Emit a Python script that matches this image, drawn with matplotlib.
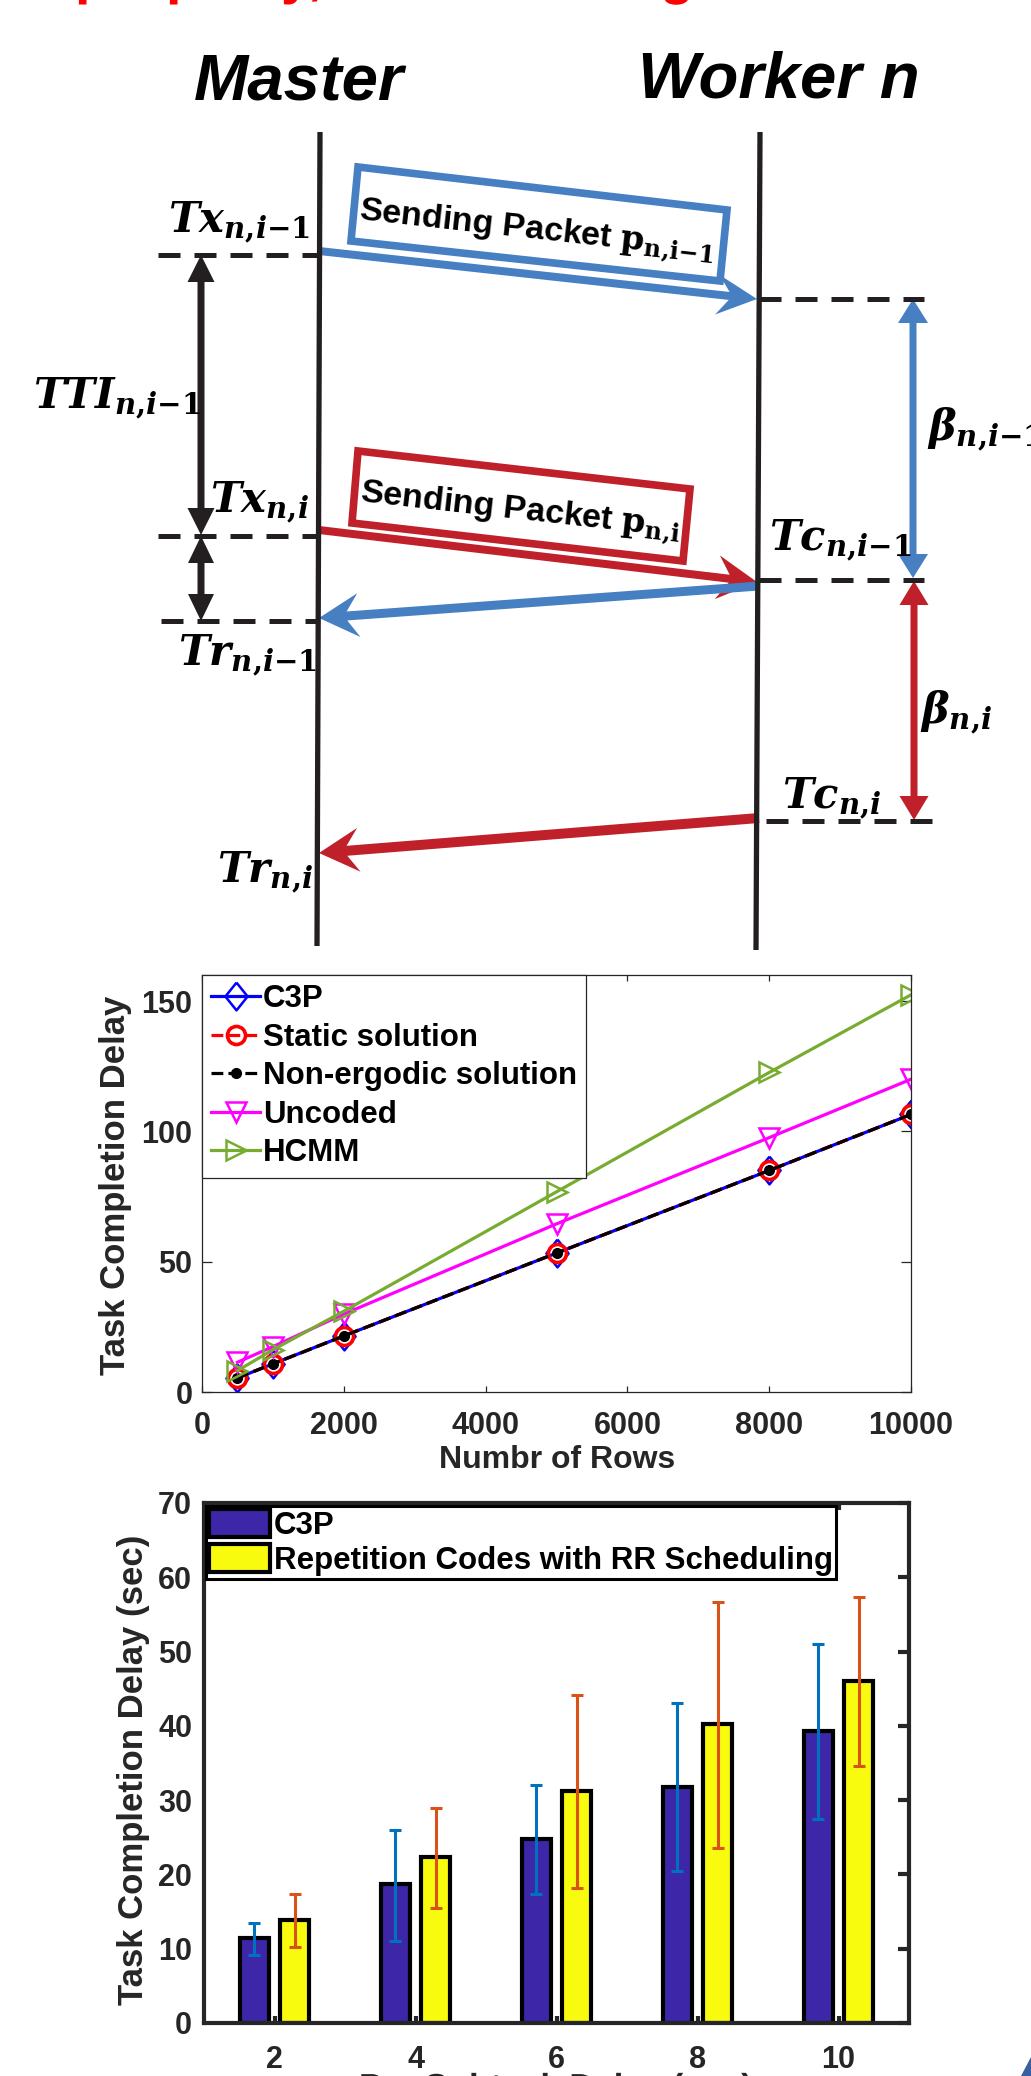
import numpy as np
import matplotlib
matplotlib.use('Agg')
import matplotlib.pyplot as plt
import matplotlib.patheffects as pe
from matplotlib.patches import Polygon

# ---- data: middle chart ----
rows = [500, 1000, 2000, 5000, 8000, 10000]
c3p_delay = [5.4, 10.8, 21.5, 53.3, 85.0, 106.5]
static_delay = [5.4, 10.8, 21.5, 53.3, 85.0, 106.5]
nonergodic_delay = [5.4, 10.8, 21.5, 53.3, 85.0, 106.5]
uncoded_delay = [11.4, 17.4, 29.9, 64.5, 97.6, 120.0]
hcmm_delay = [8.2, 16.2, 31.0, 76.8, 122.6, 152.4]
line_labels = ['C3P', 'Static solution', 'Non-ergodic solution', 'Uncoded', 'HCMM']

# ---- data: bottom chart ----
workers = [2, 4, 6, 8, 10]
c3p_mean = [11.4, 18.7, 24.8, 31.8, 39.3]
c3p_lo = [9.2, 11.1, 17.3, 20.4, 27.5]
c3p_hi = [13.5, 26.0, 32.1, 43.1, 51.0]
rep_mean = [13.8, 22.3, 31.2, 40.2, 46.0]
rep_lo = [10.2, 15.5, 18.2, 23.6, 34.6]
rep_hi = [17.3, 29.0, 44.1, 56.7, 57.4]
bar_labels = ['C3P', 'Repetition Codes with RR Scheduling']

plt.rcParams.update({
    'font.family': 'Liberation Sans',
    'font.weight': 'bold',
    'mathtext.fontset': 'custom',
    'mathtext.it': 'DejaVu Serif:italic:bold',
    'mathtext.rm': 'DejaVu Serif:bold',
    'mathtext.bf': 'DejaVu Serif:bold',
})

W, H = 1031, 2076
K = '#231F20'
BLUE = '#4680C2'
RED = '#C0202A'
GRAY = '#262626'

fig = plt.figure(figsize=(W / 100, H / 100), dpi=100)

# background axes in pixel coordinates for the diagram
bg = fig.add_axes([0, 0, 1, 1])
bg.set_xlim(0, W)
bg.set_ylim(H, 0)
bg.axis('off')


def px_axes(x0, y0, x1, y1):
    return fig.add_axes([x0 / W, 1 - y1 / H, (x1 - x0) / W, (y1 - y0) / H])


def arrow(x0, y0, x1, y1, color, w, hl, hw, both=False, notch=0.0):
    p0 = np.array([x0, y0], float)
    p1 = np.array([x1, y1], float)
    u = (p1 - p0) / np.hypot(*(p1 - p0))
    n = np.array([-u[1], u[0]])
    b1 = p1 - u * hl
    i1 = p1 - u * hl * (1 - notch)
    if both:
        b0 = p0 + u * hl
        i0 = p0 + u * hl * (1 - notch)
        start = i0
    else:
        start = p0
    pts = [start + n * w / 2, i1 + n * w / 2, b1 + n * hw / 2, p1,
           b1 - n * hw / 2, i1 - n * w / 2, start - n * w / 2]
    if both:
        pts += [b0 - n * hw / 2, p0, b0 + n * hw / 2]
    bg.add_patch(Polygon(pts, closed=True, fc=color, ec='none'))


def dashed(x0, x1, y):
    bg.plot([x0, x1], [y, y], color=K, lw=3.6, ls=(0, (4.4, 2.8)),
            dash_capstyle='butt')


# red title cut by the top edge: only the descenders show
# (path effect -> drawn as a path, so it is clipped at the canvas edge)
for xx, ch in [(75, 'p'), (166, 'p'), (281, 'y,'), (660, 'g')]:
    fig.text(xx / W, 1 + 7 / H, ch, color='red', fontsize=40, va='baseline', ha='left',
             path_effects=[pe.Normal()])

# headers
bg.text(194, 100, 'Master', fontsize=47, style='italic', va='baseline', ha='left', color='k')
bg.text(638, 98, 'Worker n', fontsize=47, style='italic', va='baseline', ha='left', color='k')

# time lines
bg.plot([320, 317], [132, 946], color=K, lw=3.8, solid_capstyle='butt')
bg.plot([760, 756], [132, 950], color=K, lw=3.8, solid_capstyle='butt')

# dashed markers
dashed(158, 319, 255)
dashed(759, 924, 299)
dashed(158, 319, 536)
dashed(161, 319, 621)
dashed(759, 924, 580)
dashed(766, 934, 821)

# message arrows
arrow(319, 251, 757, 299, BLUE, 8, 40, 40, notch=0.3)
arrow(319, 530, 757, 582, RED, 8, 40, 44, notch=0.3)
arrow(759, 586, 319, 618, BLUE, 9, 40, 44, notch=0.3)
arrow(759, 818, 319, 853, RED, 10, 40, 44, notch=0.3)

# interval arrows
arrow(201, 255, 201, 535, K, 7, 27, 27, both=True)
arrow(201, 536, 201, 621, K, 7, 27, 26, both=True)
arrow(913, 299, 913, 578, BLUE, 7, 24, 30, both=True)
arrow(914, 581, 914, 820, RED, 7, 24, 29, both=True)

# packet boxes
bg.add_patch(Polygon([(358, 167), (727, 210), (720, 281), (351, 241)], closed=True,
                     fill=False, ec=BLUE, lw=5.5, joinstyle='miter'))
bg.add_patch(Polygon([(358, 451), (690, 489), (683, 561), (352, 523)], closed=True,
                     fill=False, ec=RED, lw=5.5, joinstyle='miter'))
bg.text(537, 231, r'Sending Packet $\mathrm{p}_{\mathrm{n{,}i{-}1}}$', fontsize=24.5,
        color='k', rotation=-6.3, rotation_mode='anchor', ha='center', va='center')
bg.text(520, 512, r'Sending Packet $\mathrm{p}_{\mathrm{n{,}i}}$', fontsize=24.5,
        color='k', rotation=-6.4, rotation_mode='anchor', ha='center', va='center')

# time labels
ms = 30
for xx, yy, s in [(168, 232, r'$Tx_{n{,}i{-}1}$'), (33, 408, r'$TTI_{n{,}i{-}1}$'),
                  (210, 512, r'$Tx_{n{,}i}$'), (178, 665, r'$Tr_{n{,}i{-}1}$'),
                  (217, 882, r'$Tr_{n{,}i}$'), (769, 550, r'$Tc_{n{,}i{-}1}$'),
                  (782, 808, r'$Tc_{n{,}i}$'), (927, 440, r'$\beta_{n{,}i{-}1}$'),
                  (920, 723, r'$\beta_{n{,}i}$')]:
    bg.text(xx, yy, s, fontsize=ms, color='k', ha='left', va='baseline')

# ---- middle chart ----
diamond = [(0, 1), (0.8, 0), (0, -1), (-0.8, 0), (0, 1)]
ax1 = px_axes(202, 975, 911, 1392)
ax1.plot(rows, c3p_delay, color='#0000FF', marker=diamond, ms=20, mfc='none', mew=1.8,
         lw=2.3, label=line_labels[0])
ax1.plot(rows, static_delay, color='#FF0000', ls='--', marker='o', ms=13, mfc='none',
         mew=2.6, lw=2.3, label=line_labels[1])
ax1.plot(rows, nonergodic_delay, color='k', ls='--', marker='.', ms=14, lw=2.3,
         label=line_labels[2])
ax1.plot(rows, uncoded_delay, color='#FF00FF', marker='v', ms=14, mfc='none', mew=1.8,
         lw=2.3, label=line_labels[3])
ax1.plot(rows, hcmm_delay, color='#77AC30', marker='>', ms=14, mfc='none', mew=1.8,
         lw=2.3, label=line_labels[4])
ax1.set_xlim(0, 10000)
ax1.set_ylim(0, 160)
ax1.set_xticks(range(0, 10001, 2000))
ax1.set_yticks([0, 50, 100, 150])
for sp in ax1.spines.values():
    sp.set_linewidth(0.9)
    sp.set_color(GRAY)
ax1.tick_params(direction='in', top=True, right=True, labelsize=22, colors=GRAY, width=0.9)
ax1.tick_params(axis='x', length=4, pad=14)
ax1.tick_params(axis='y', length=7, pad=7)
leg1 = ax1.legend(loc='upper left', bbox_to_anchor=(0, 1), borderaxespad=0, fancybox=False,
                  edgecolor=GRAY, framealpha=1, prop=dict(size=22.5, weight='bold'),
                  handlelength=1.55, handletextpad=0.1, borderpad=0.3, labelspacing=0.27)
leg1.get_frame().set_linewidth(0.9)
bg.text(115, 1185, 'Task Completion Delay', rotation=90, ha='center', va='center',
        fontsize=25, color=GRAY)
bg.text(557, 1468, 'Numbr of Rows', ha='center', va='baseline', fontsize=23, color=GRAY)

# ---- bottom chart ----
ax2 = px_axes(204, 1503, 909, 2023)
pos = np.arange(1, len(workers) + 1)
off = 0.143
ax2.bar(pos - off, c3p_mean, 0.21, color='#3E26A8', edgecolor='k', lw=3.0,
        label=bar_labels[0], zorder=2)
ax2.bar(pos + off, rep_mean, 0.21, color='#F9FB0E', edgecolor='k', lw=3.0,
        label=bar_labels[1], zorder=2)
c3p_err = [np.subtract(c3p_mean, c3p_lo), np.subtract(c3p_hi, c3p_mean)]
rep_err = [np.subtract(rep_mean, rep_lo), np.subtract(rep_hi, rep_mean)]
ax2.errorbar(pos - off, c3p_mean, yerr=c3p_err, fmt='none', ecolor='#0072BD',
             elinewidth=2.2, capsize=4, capthick=2.2, zorder=3)
ax2.errorbar(pos + off, rep_mean, yerr=rep_err, fmt='none', ecolor='#D95319',
             elinewidth=2.2, capsize=4, capthick=2.2, zorder=3)
ax2.set_xlim(0.5, 5.5)
ax2.set_ylim(0, 70)
ax2.set_xticks(pos)
ax2.set_xticklabels([str(w) for w in workers])
ax2.set_yticks(range(0, 71, 10))
for sp in ax2.spines.values():
    sp.set_linewidth(3)
    sp.set_color(GRAY)
ax2.tick_params(direction='in', top=True, right=True, left=False, labelsize=22,
                colors=GRAY, width=3)
ax2.tick_params(axis='x', length=5, pad=16)
ax2.tick_params(axis='y', length=8, pad=8.6)
leg2 = ax2.legend(loc='upper left', bbox_to_anchor=(0.003, 0.994), borderaxespad=0,
                  fancybox=False, edgecolor='k', framealpha=1,
                  prop=dict(size=22.5, weight='bold'), handlelength=1.93, handleheight=1.0,
                  handletextpad=0.13, borderpad=0.1, labelspacing=0.1)
leg2.get_frame().set_linewidth(2.2)
bg.text(134, 1770, 'Task Completion Delay (sec)', rotation=90, ha='center', va='center',
        fontsize=25, color=GRAY)
bg.text(556, 2098, 'Per Subtask Delay (sec)', ha='center', va='baseline', fontsize=25,
        color=GRAY, path_effects=[pe.Normal()])

# corner fragment
bg.add_patch(Polygon([(1021, 2076), (1031, 2057), (1031, 2076)], closed=True,
                     fc='#3A5FA0', ec='none'))

fig.savefig('out.png', dpi=100)
